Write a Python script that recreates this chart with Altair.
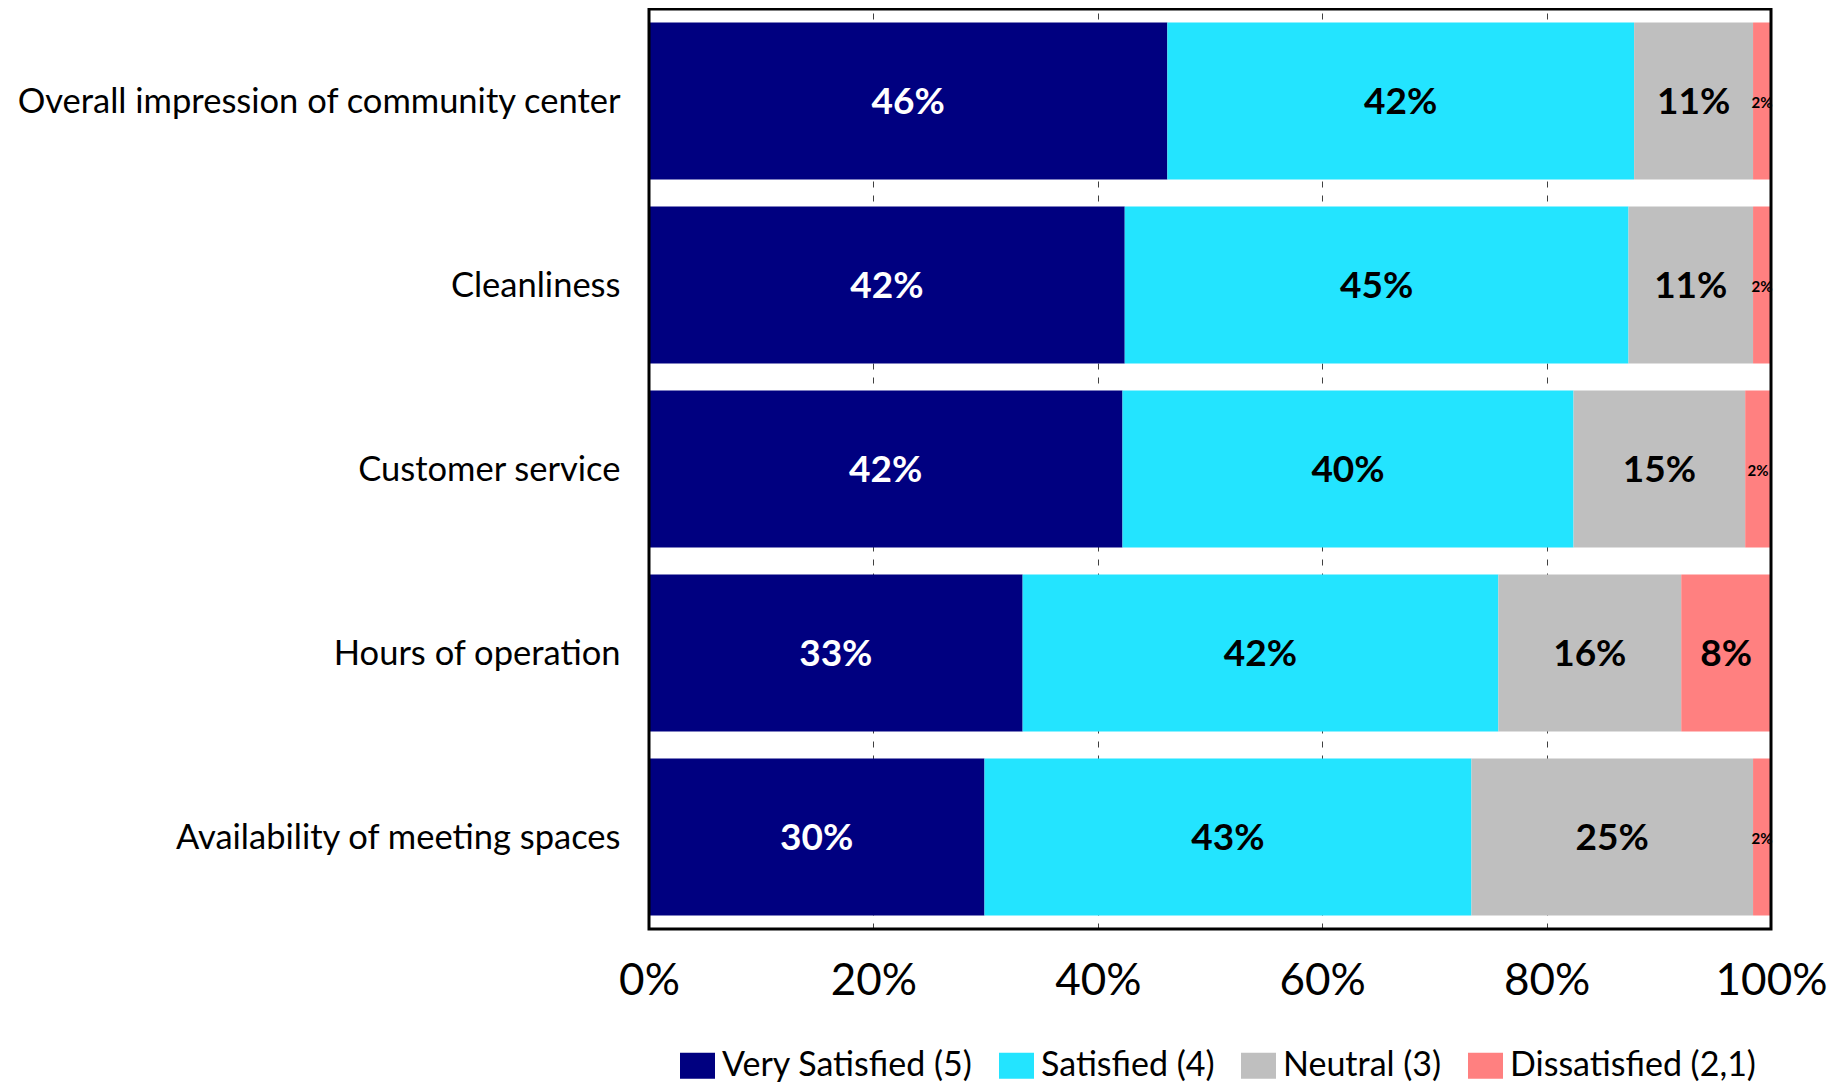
import altair as alt
import pandas as pd

categories = [
    "Overall impression of community center",
    "Cleanliness",
    "Customer service",
    "Hours of operation",
    "Availability of meeting spaces",
]
levels = ["Very Satisfied (5)", "Satisfied (4)", "Neutral (3)", "Dissatisfied (2,1)"]
very_satisfied = [46.2, 42.4, 42.2, 33.3, 29.9]
satisfied = [41.6, 44.9, 40.2, 42.4, 43.4]
neutral = [10.6, 11.1, 15.3, 16.3, 25.1]
dissatisfied = [1.6, 1.6, 2.3, 8.0, 1.6]
colors = ["#000080", "#23E4FF", "#BFBFBF", "#FF8080"]
x_ticks = [0, 20, 40, 60, 80, 100]

series = [very_satisfied, satisfied, neutral, dissatisfied]
df = pd.DataFrame(
    [
        {"category": c, "level": levels[j], "rank": j, "value": series[j][i]}
        for i, c in enumerate(categories)
        for j in range(len(levels))
    ]
)

PLOT_W, PLOT_H = 1122, 920
FONT = "Lato"

y_enc = alt.Y(
    "category:N",
    sort=categories,
    title=None,
    scale=alt.Scale(paddingInner=0.1467, paddingOuter=0.0734),
    axis=alt.Axis(
        domain=False, ticks=False, tickSize=0, labelPadding=29, labelOffset=2,
        labelFont=FONT, labelFontSize=34.5, labelColor="black", labelLimit=900,
    ),
)

base = (
    alt.Chart(df)
    .transform_stack(
        stack="value", groupby=["category"], as_=["x0", "x1"],
        sort=[alt.SortField("rank", order="ascending")],
    )
    .transform_calculate(
        mid="(datum.x0 + datum.x1) / 2",
        label="format(datum.value, '.0f') + '%'",
    )
)

bars = base.mark_bar().encode(
    y=y_enc,
    x=alt.X(
        "x0:Q",
        title=None,
        scale=alt.Scale(domain=[0, 100], nice=False),
        axis=alt.Axis(
            values=x_ticks, labelExpr="datum.value + '%'", domain=False,
            ticks=False, tickSize=0, labelPadding=30, labelFlush=False,
            labelFont=FONT, labelFontSize=44, labelColor="black",
            grid=True, gridColor="#404040", gridDash=[6, 8], gridWidth=1,
        ),
    ),
    x2="x1:Q",
    color=alt.Color(
        "level:N",
        sort=levels,
        scale=alt.Scale(domain=levels, range=colors),
        legend=alt.Legend(
            title=None, orient="none", direction="horizontal",
            legendX=31, legendY=1039,
            symbolType="M-1,-0.743H1V0.743H-1Z", symbolSize=1225,
            symbolStrokeWidth=0, symbolOpacity=1,
            labelFont=FONT, labelFontSize=34, labelColor="black",
            labelOffset=7, columnPadding=26, labelLimit=600,
        ),
    ),
)

text = base.mark_text(font=FONT, fontWeight="bold", align="center", baseline="middle", dy=2).encode(
    y=alt.Y("category:N", sort=categories),
    x=alt.X("mid:Q"),
    text="label:N",
    color=alt.condition(alt.datum.rank == 0, alt.value("white"), alt.value("black")),
    size=alt.condition(alt.datum.value < 5, alt.value(15), alt.value(37)),
)

frame = (
    alt.Chart(pd.DataFrame({"lo": [x_ticks[0]], "hi": [x_ticks[-1]]}))
    .mark_rect(filled=False, stroke="black", strokeWidth=3)
    .encode(x="lo:Q", x2="hi:Q", y=alt.value(0), y2=alt.value(PLOT_H))
)

chart = (
    alt.layer(bars, text, frame)
    .properties(
        width=PLOT_W,
        height=PLOT_H,
        padding={"left": 641, "top": 1, "right": 62, "bottom": 153},
        autosize=alt.AutoSizeParams(type="none"),
    )
    .configure_view(stroke="transparent")
)

chart.save("out.html", embed_options={"renderer": "svg", "actions": False})
